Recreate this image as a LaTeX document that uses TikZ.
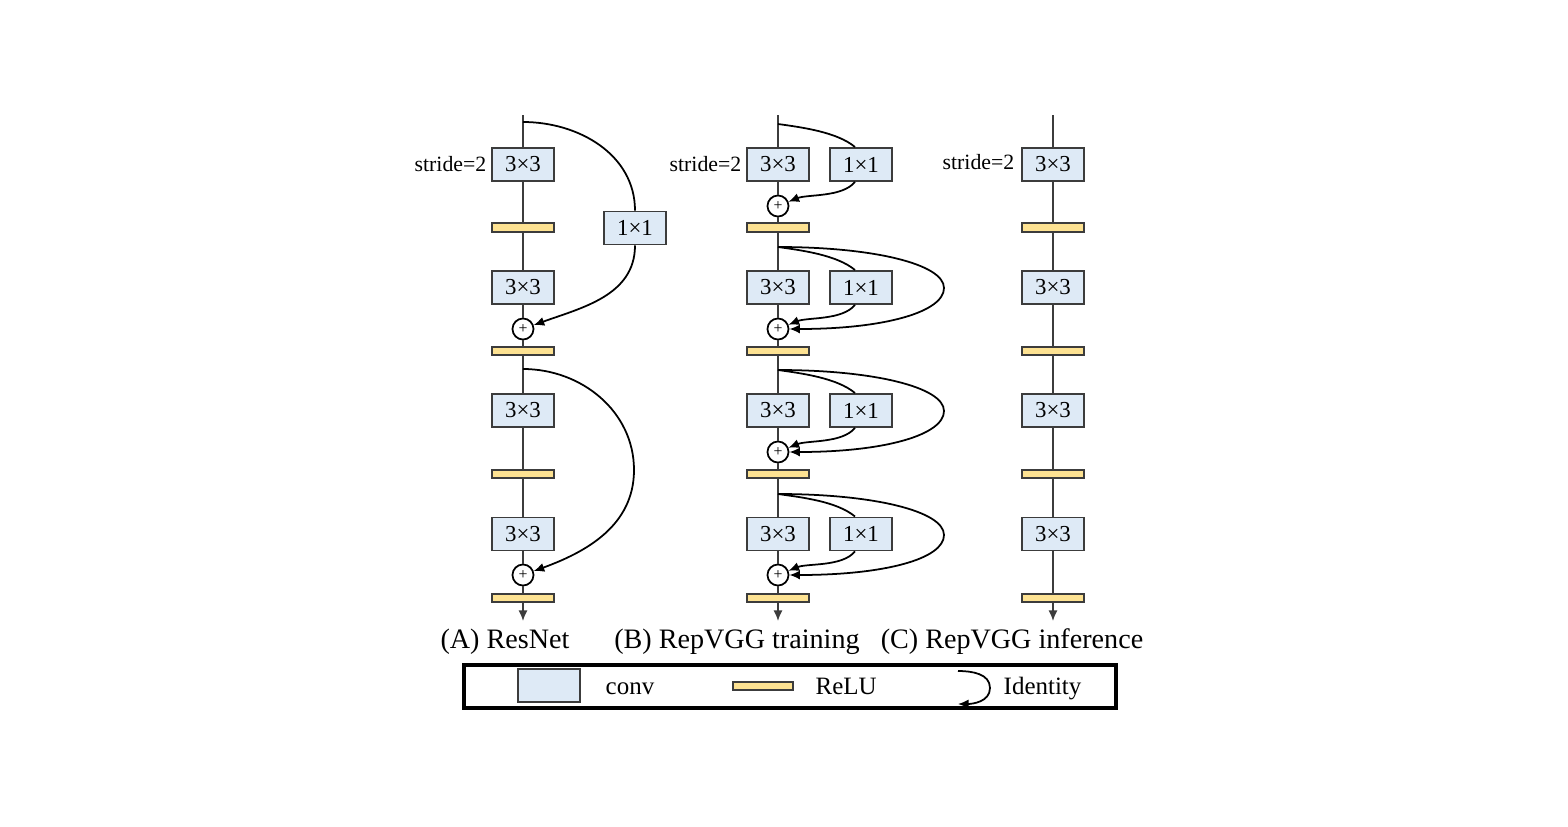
\documentclass[tikz,border=0pt]{standalone}
\usepackage{fontspec}
\setmainfont{Liberation Serif}
\usetikzlibrary{arrows.meta,positioning}
\definecolor{convfill}{RGB}{222,234,246}
\definecolor{relufill}{RGB}{253,226,146}
\definecolor{edgegray}{RGB}{60,60,60}

\begin{document}
\begin{tikzpicture}[x=0.01cm, y=0.01cm,
  conv/.style={draw=edgegray, fill=convfill, line width=0.55pt, minimum width=0.62cm,
    minimum height=0.33cm, inner sep=0pt, font=\fontsize{6.5}{7}\selectfont},
  relu/.style={draw=edgegray, fill=relufill, line width=0.55pt, minimum width=0.62cm,
    minimum height=0.085cm, inner sep=0pt},
  addnode/.style={circle, draw=black, fill=white, line width=0.5pt, minimum size=0.21cm,
    inner sep=0pt, font=\fontsize{4.5}{5}\selectfont},
  stem/.style={edgegray, line width=0.5pt},
  skip/.style={black, line width=0.5pt},
  tip/.style={-{Latex[length=3pt,width=2.6pt]}},
  stridelbl/.style={inner sep=0pt, font=\fontsize{6.2}{7}\selectfont},
  caption/.style={inner sep=0pt, anchor=base, font=\fontsize{8}{9}\selectfont},
  lgtext/.style={inner sep=0pt, anchor=base west, font=\fontsize{7.1}{8}\selectfont}]

\useasboundingbox (0,0) rectangle (1568,-827);

% Column positions (x of the three stems and of the 1x1 branch)
\def\xa{523}
\def\xb{778}
\def\xc{1053}
\def\xk{861}

% Conv / ReLU rows, same in all three columns
\foreach \i/\cy/\ry in {1/164.5/227.5, 2/287.5/351, 3/410.5/474, 4/534/598} {
    \node[conv] (cA\i) at (\xa,-\cy) {3×3};
    \node[relu] (rA\i) at (\xa,-\ry) {};
    \node[conv] (cB\i) at (\xb,-\cy) {3×3};
    \node[conv] (kB\i) at (\xk,-\cy) {1×1};
    \node[relu] (rB\i) at (\xb,-\ry) {};
    \node[conv] (cC\i) at (\xc,-\cy) {3×3};
    \node[relu] (rC\i) at (\xc,-\ry) {};
}

% Additions
\node[addnode] (pA1) at (\xa,-329) {+};
\node[addnode] (pA2) at (\xa,-575) {+};
\foreach \i/\py in {1/206, 2/329, 3/452, 4/575} {
    \node[addnode] (pB\i) at (\xb,-\py) {+};
}

% ResNet projection shortcut
\node[conv] (kA) at (635,-228) {1×1};

% Stride labels
\node[stridelbl, left=0.04cm of cA1] (sA) {stride=2};
\node[stridelbl, left=0.04cm of cB1] (sB) {stride=2};
\node[stridelbl, left=0.06cm of cC1, yshift=0.02cm] (sC) {stride=2};

% Stem ends
\coordinate (tA) at (\xa,-115);
\coordinate (tB) at (\xb,-115);
\coordinate (tC) at (\xc,-115);
\coordinate (oA) at (\xa,-621);
\coordinate (oB) at (\xb,-621);
\coordinate (oC) at (\xc,-621);

% Main stems
\draw[stem] (tA) -- (cA1) -- (rA1) -- (cA2) -- (pA1) -- (rA2) -- (cA3) -- (rA3) -- (cA4) -- (pA2) -- (rA4);
\draw[stem, tip] (rA4) -- (oA);
\draw[stem] (tB) -- (cB1) -- (pB1) -- (rB1) -- (cB2) -- (pB2) -- (rB2) -- (cB3) -- (pB3) -- (rB3) -- (cB4) -- (pB4) -- (rB4);
\draw[stem, tip] (rB4) -- (oB);
\draw[stem] (tC) -- (cC1) -- (rC1) -- (cC2) -- (rC2) -- (cC3) -- (rC3) -- (cC4) -- (rC4);
\draw[stem, tip] (rC4) -- (oC);

% ResNet shortcuts
\coordinate (bA1) at (\xa,-122);
\coordinate (bA2) at (\xa,-369);
\coordinate (fA2) at (634,-470);
\draw[skip] (bA1) to[out=0,in=90] (kA.north);
\draw[skip, tip] (kA.south) to[out=-90,in=20] (pA1);
\draw[skip, tip] (bA2) to[out=0,in=90] (fA2) to[out=-90,in=20] (pA2);

% RepVGG branches: 1x1 in every block, identity from block 2 on
\foreach \i/\by in {1/124, 2/247, 3/370, 4/494} {
    \coordinate (bB\i) at (\xb,-\by);
    \draw[skip] (bB\i) to[out=-8,in=140,looseness=0.75] ([xshift=-0.06cm]kB\i.north);
    \draw[skip, tip] ([xshift=-0.06cm]kB\i.south) to[out=-130,in=22,looseness=0.75] (pB\i);
}
\foreach \i/\fy in {2/288, 3/411, 4/535} {
    \coordinate (fB\i) at (944,-\fy);
    \draw[skip, tip] (bB\i) .. controls +(95,0) and +(0,24) .. (fB\i)
        .. controls +(0,-24) and +(95,0) .. (pB\i.east);
}

% Captions
\node[caption] (capA) at (505,-648) {(A) ResNet};
\node[caption] (capB) at (737,-648) {(B) RepVGG training};
\node[caption] (capC) at (1012,-648) {(C) RepVGG inference};

% Legend
\node[draw=black, line width=1.2pt, minimum width=6.52cm, minimum height=0.43cm, inner sep=0pt]
    (legend) at (790,-686.5) {};
\node[conv] (lgconv) at (549,-685.5) {};
\node[lgtext] (lgconvtxt) at (605,-694) {conv};
\node[relu, minimum width=0.6cm] (lgrelu) at (763,-686) {};
\node[lgtext] (lgrelutxt) at (815,-694) {ReLU};
\coordinate (lgi1) at (958,-671);
\coordinate (lgi2) at (990,-688);
\coordinate (lgi3) at (958,-704);
\draw[skip, tip] (lgi1) to[out=0,in=90] (lgi2) to[out=-90,in=0] (lgi3);
\node[lgtext] (lgidtxt) at (1003,-694) {Identity};

\end{tikzpicture}
\end{document}
